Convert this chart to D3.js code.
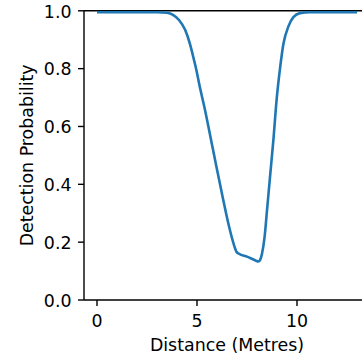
<!DOCTYPE html>
<html>
<head>
<meta charset="utf-8">
<script src="https://cdn.jsdelivr.net/npm/d3@7"></script>
<style>
  html, body { margin: 0; padding: 0; background: #fff; }
  svg { display: block; }
  text { font-family: "DejaVu Sans", sans-serif; fill: #000; }
</style>
</head>
<body>
<svg id="chart" width="362" height="358"></svg>
<script>
// ---- data ----
const distance = [0, 1, 2, 3, 3.5, 3.8, 4.1, 4.4, 4.65, 4.85, 5.0, 5.1, 5.4, 5.8, 6.3, 6.6, 6.85, 6.97, 7.1, 7.5, 7.95, 8.07, 8.15, 8.25, 8.38, 8.5, 8.65, 8.82, 8.98, 9.15, 9.32, 9.57, 9.82, 10.15, 10.65, 11, 12, 13];
const probability = [0.995, 0.995, 0.995, 0.995, 0.993, 0.986, 0.968, 0.935, 0.885, 0.83, 0.785, 0.75, 0.657, 0.52, 0.35, 0.255, 0.19, 0.167, 0.16, 0.15, 0.136, 0.133, 0.138, 0.16, 0.218, 0.31, 0.425, 0.554, 0.692, 0.8, 0.885, 0.946, 0.978, 0.992, 0.995, 0.995, 0.995, 0.995];
const xTicks = [0, 5, 10];
const yTicks = [0.0, 0.2, 0.4, 0.6, 0.8, 1.0];
const xLabel = "Distance (Metres)";
const yLabel = "Detection Probability";

const svg = d3.select("#chart");
const fontSize = 17.4;

const x = d3.scaleLinear().domain([-0.65, 13.65]).range([84, 370]);
const y = d3.scaleLinear().domain([0, 1]).range([300, 10.8]);

// spines
const spineW = 1.4;
svg.append("line").attr("x1", x(-0.65)).attr("x2", x(13.65)).attr("y1", y(0)).attr("y2", y(0))
  .attr("stroke", "#000").attr("stroke-width", spineW);
svg.append("line").attr("x1", x(-0.65)).attr("x2", x(13.65)).attr("y1", y(1)).attr("y2", y(1))
  .attr("stroke", "#000").attr("stroke-width", spineW);
svg.append("line").attr("x1", x(-0.65)).attr("x2", x(-0.65)).attr("y1", y(0)).attr("y2", y(1))
  .attr("stroke", "#000").attr("stroke-width", spineW);

// x ticks
const xg = svg.append("g");
xTicks.forEach(t => {
  xg.append("line").attr("x1", x(t)).attr("x2", x(t)).attr("y1", y(0)).attr("y2", y(0) + 6)
    .attr("stroke", "#000").attr("stroke-width", spineW);
  xg.append("text").attr("x", x(t)).attr("y", 327.3).attr("text-anchor", "middle")
    .attr("font-size", fontSize).text(d3.format("d")(t));
});

// y ticks
const yg = svg.append("g");
yTicks.forEach(t => {
  yg.append("line").attr("x1", x(-0.65) - 6).attr("x2", x(-0.65)).attr("y1", y(t)).attr("y2", y(t))
    .attr("stroke", "#000").attr("stroke-width", spineW);
  yg.append("text").attr("x", 71.5).attr("y", y(t) + 6.8).attr("text-anchor", "end")
    .attr("font-size", fontSize).text(d3.format(".1f")(t));
});

// axis labels
svg.append("text").attr("x", (84 + 370) / 2).attr("y", 351).attr("text-anchor", "middle")
  .attr("font-size", fontSize).text(xLabel);
svg.append("text").attr("transform", `translate(32.5,${(y(0) + y(1)) / 2}) rotate(-90)`)
  .attr("text-anchor", "middle").attr("font-size", fontSize).text(yLabel);

// curve
const pts = distance.map((d, i) => [d, probability[i]]);
const line = d3.line().x(d => x(d[0])).y(d => y(d[1])).curve(d3.curveMonotoneX);
svg.append("path").datum(pts).attr("d", line).attr("fill", "none")
  .attr("stroke", "#1f77b4").attr("stroke-width", 2.6).attr("stroke-linejoin", "round").attr("stroke-linecap", "butt");
</script>
</body>
</html>
